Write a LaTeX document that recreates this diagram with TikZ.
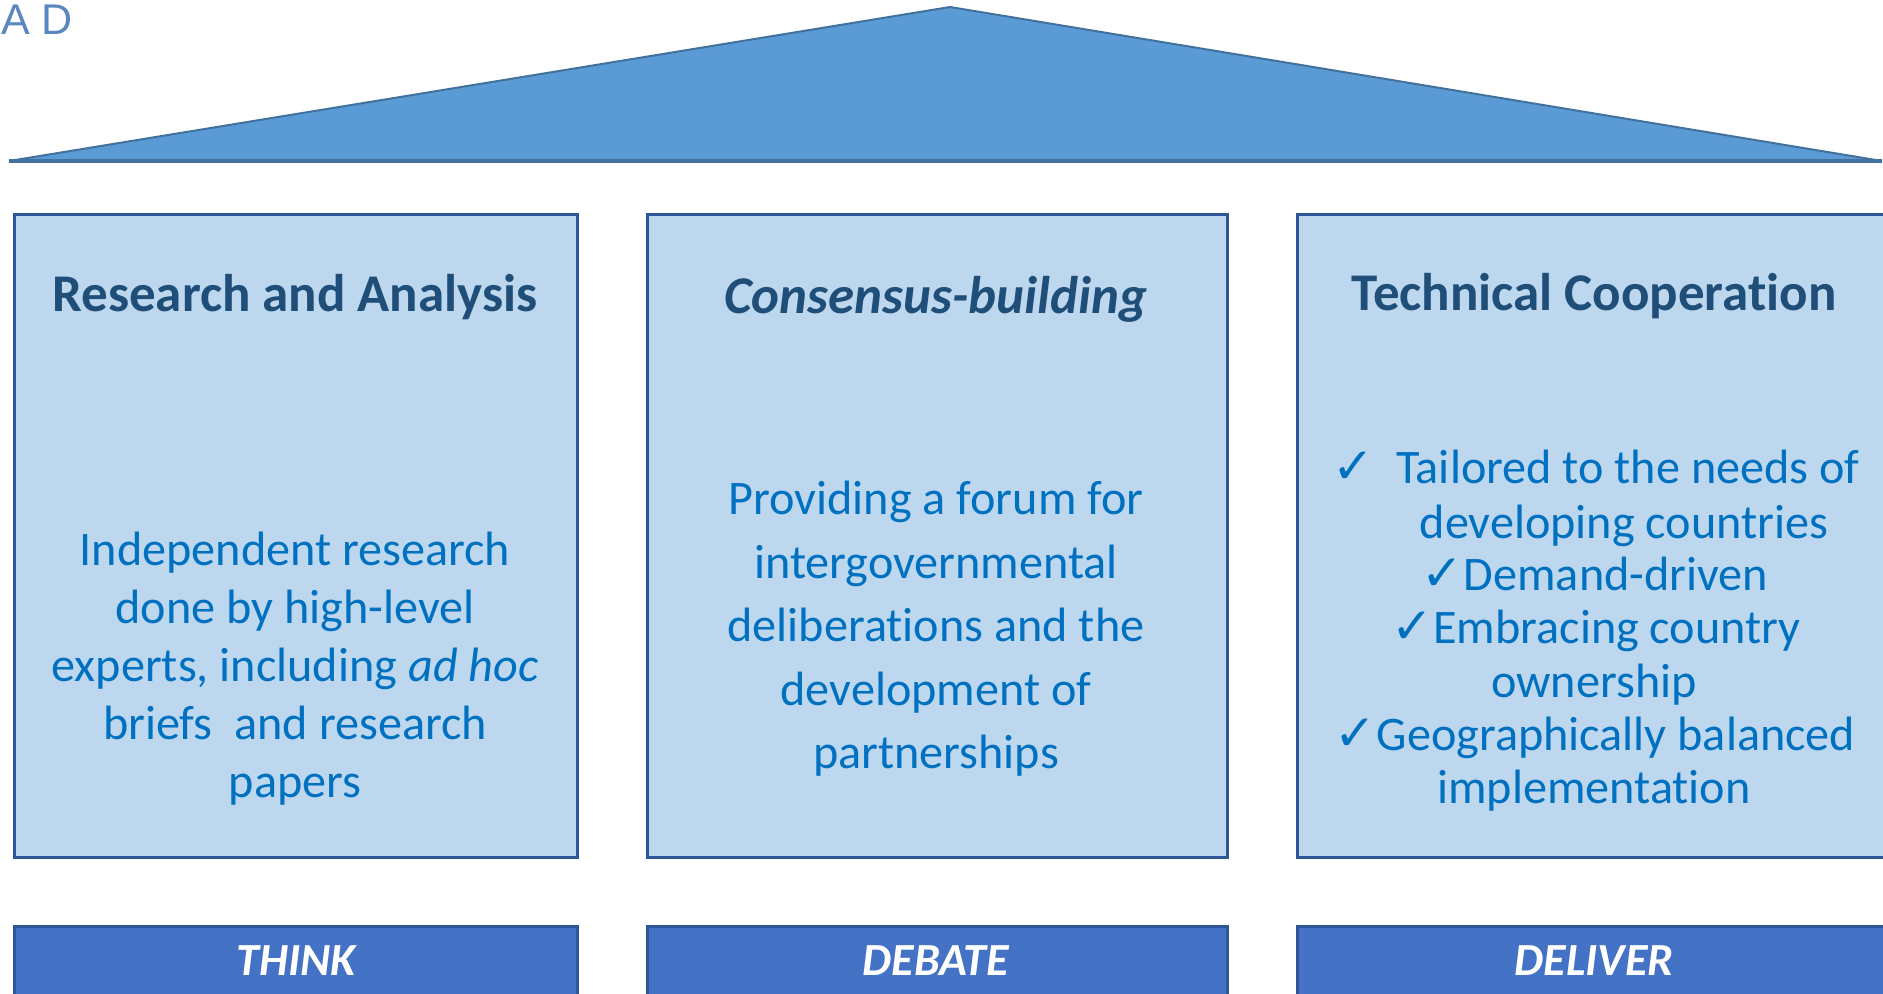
\documentclass[tikz,border=0pt]{standalone}
\usepackage{fontspec}
\setmainfont[Ligatures=NoCommon]{Carlito}
\newfontfamily\checkfont{DejaVu Sans}
\newfontfamily\logofont{Liberation Sans}

\definecolor{roofblue}{HTML}{5B9BD5}
\definecolor{roofline}{HTML}{41719C}
\definecolor{pillarfill}{HTML}{BDD7EE}
\definecolor{pillarline}{HTML}{2F5597}
\definecolor{barfill}{HTML}{4472C4}
\definecolor{headblue}{HTML}{1F4E79}
\definecolor{bodyblue}{HTML}{0070C0}
\definecolor{logoblue}{HTML}{5A87C0}

\newcommand{\tick}{{\checkfont\fontsize{25}{28}\selectfont ✓}}

\begin{document}
\begin{tikzpicture}[x=0.5pt, y=-0.5pt,
  roof/.style={fill=roofblue, draw=roofline, line width=1pt, line join=miter},
  roofbase/.style={draw=roofline, line width=1.8pt},
  pillar/.style={draw=pillarline, fill=pillarfill, line width=1.5pt, inner sep=0pt, anchor=north west},
  bar/.style={draw=pillarline, fill=barfill, line width=1.5pt, inner sep=0pt, anchor=north west},
  heading/.style={anchor=base, inner sep=0pt, text=headblue, font=\fontsize{26.5}{30}\selectfont\bfseries},
  body/.style={anchor=base, inner sep=0pt, text=bodyblue, font=\fontsize{24.1}{28}\selectfont},
  barlabel/.style={anchor=base, inner sep=0pt, text=white, font=\fontsize{23}{27}\selectfont\bfseries\itshape},
  logo/.style={anchor=base west, inner sep=0pt, text=logoblue, font=\logofont\fontsize{21.5}{24}\selectfont}]
\useasboundingbox (0,0) rectangle (1883,993);
\clip (0,0) rectangle (1883,993);

% logo fragment
\node[logo] (logo) at (1,34) {A D};

% roof
\coordinate (roofL) at (9,161);
\coordinate (roofT) at (950,7);
\coordinate (roofR) at (1882,161);
\path[roof] (roofL) -- (roofT) -- (roofR) -- cycle;
\draw[roofbase] (roofL) -- (roofR);

% pillars
\node[pillar, minimum width=281.5pt, minimum height=321.5pt] (p1) at (13,213) {};
\node[pillar, minimum width=290pt,   minimum height=321.5pt] (p2) at (646,213) {};
\node[pillar, minimum width=299pt,   minimum height=321.5pt] (p3) at (1296,213) {};

% base bars
\node[bar, minimum width=281.5pt, minimum height=50pt] (b1) at (13,925) {};
\node[bar, minimum width=290pt,   minimum height=50pt] (b2) at (646,925) {};
\node[bar, minimum width=299pt,   minimum height=50pt] (b3) at (1296,925) {};

% headings
\node[heading] (h1) at (295,311) {Research and Analysis};
\node[heading] (h2) at (936,313) {\itshape Consensus-building};
\node[heading] (h3) at (1594,310) {Technical Cooperation};

% first pillar
\node[body] (t11) at (295,565) {Independent research};
\node[body] (t12) at (295,623) {done by high-level};
\node[body] (t13) at (295,681) {experts, including \textit{ad hoc}};
\node[body] (t14) at (295,739) {briefs\ \ and research};
\node[body] (t15) at (295,797) {papers};

% second pillar
\node[body] (t21) at (936,514) {Providing a forum for};
\node[body] (t22) at (936,578) {intergovernmental};
\node[body] (t23) at (936,641) {deliberations and the};
\node[body] (t24) at (936,705) {development of};
\node[body] (t25) at (936,768) {partnerships};

% third pillar
\node[body] (t31) at (1596,483) {\tick\hspace{11pt}Tailored to the needs of};
\node[body] (t32) at (1624,538) {developing countries};
\node[body] (t33) at (1595,590) {\tick Demand-driven};
\node[body] (t34) at (1596,643) {\tick Embracing country};
\node[body] (t35) at (1594,697) {ownership};
\node[body] (t36) at (1595,750) {\tick Geographically balanced};
\node[body] (t37) at (1594,803) {implementation};

% bar labels
\node[barlabel] (l1) at (296,975) {THINK};
\node[barlabel] (l2) at (936,975) {DEBATE};
\node[barlabel] (l3) at (1594,975) {DELIVER};
\end{tikzpicture}
\end{document}
